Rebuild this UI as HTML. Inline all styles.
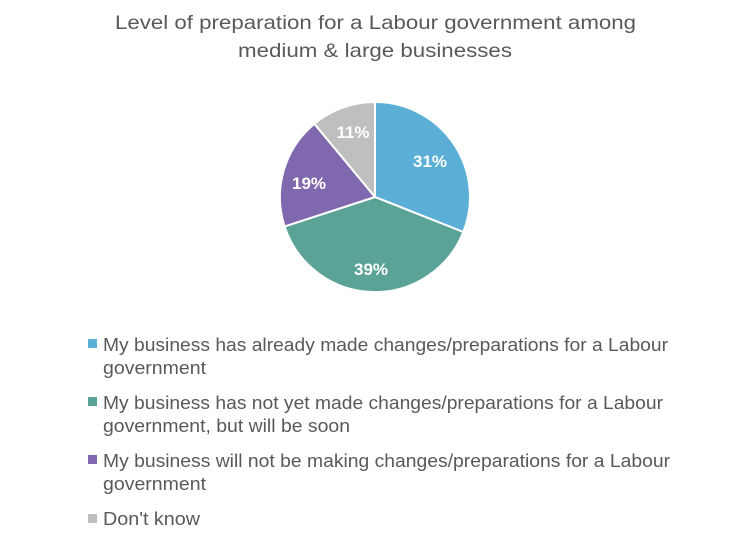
<!DOCTYPE html>
<html><head><style>
body{margin:0;width:749px;height:539px;background:#fff;font-family:"Liberation Sans",sans-serif;overflow:hidden}
</style></head><body>
<svg width="749" height="539" xmlns="http://www.w3.org/2000/svg" font-family="Liberation Sans, sans-serif">
<text x="115" y="29" font-size="19.5" fill="#595959" textLength="521" lengthAdjust="spacingAndGlyphs">Level of preparation for a Labour government among</text>
<text x="238" y="57" font-size="19.5" fill="#595959" textLength="274" lengthAdjust="spacingAndGlyphs">medium &amp; large businesses</text>
<g stroke="#fff" stroke-width="2" stroke-linejoin="round">
<path d="M375,197 L375,102 A95,95 0 0 1 463.3,232 Z" fill="#5BAFD6"/>
<path d="M375,197 L463.3,232 A95,95 0 0 1 284.6,226.4 Z" fill="#5BA397"/>
<path d="M375,197 L284.6,226.4 A95,95 0 0 1 314.4,123.8 Z" fill="#8068AE"/>
<path d="M375,197 L314.4,123.8 A95,95 0 0 1 375,102 Z" fill="#BFBFBF"/>
</g>
<g font-size="17" font-weight="bold" fill="#fff" text-anchor="middle">
<text x="430" y="167">31%</text>
<text x="371" y="275">39%</text>
<text x="309" y="189">19%</text>
<text x="353" y="138">11%</text>
</g>
<g font-size="18.5" fill="#595959" lengthAdjust="spacingAndGlyphs">
<rect x="88" y="339" width="9" height="9" fill="#5BAFD6"/>
<text x="103" y="351" textLength="565" lengthAdjust="spacingAndGlyphs">My business has already made changes/preparations for a Labour</text>
<text x="103" y="374" textLength="103" lengthAdjust="spacingAndGlyphs">government</text>
<rect x="88" y="397" width="9" height="9" fill="#5BA397"/>
<text x="103" y="409" textLength="560" lengthAdjust="spacingAndGlyphs">My business has not yet made changes/preparations for a Labour</text>
<text x="103" y="432" textLength="247" lengthAdjust="spacingAndGlyphs">government, but will be soon</text>
<rect x="88" y="455" width="9" height="9" fill="#8068AE"/>
<text x="103" y="467" textLength="567" lengthAdjust="spacingAndGlyphs">My business will not be making changes/preparations for a Labour</text>
<text x="103" y="490" textLength="103" lengthAdjust="spacingAndGlyphs">government</text>
<rect x="88" y="514" width="9" height="9" fill="#BFBFBF"/>
<text x="103" y="525" textLength="97" lengthAdjust="spacingAndGlyphs">Don't know</text>
</g>
</svg>
</body></html>
